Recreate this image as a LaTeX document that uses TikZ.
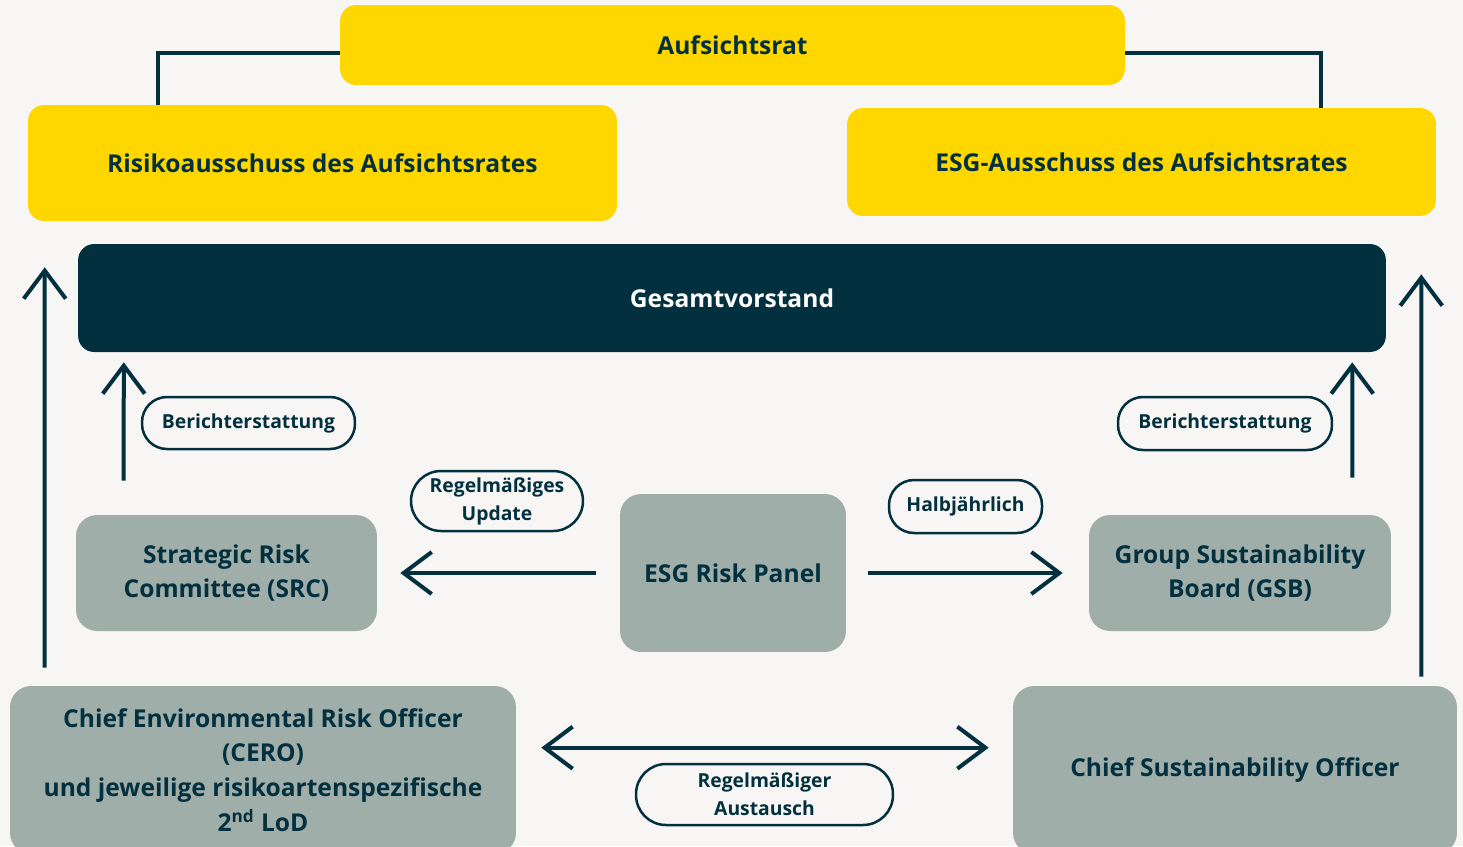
\documentclass[tikz,border=0pt]{standalone}
\usepackage{fontspec}
\setmainfont{Open Sans}
\usetikzlibrary{arrows.meta,calc}
\definecolor{bgcol}{HTML}{F7F6F4}
\definecolor{gelb}{HTML}{FFD700}
\definecolor{navy}{HTML}{02303E}
\definecolor{grau}{HTML}{A0AEAA}
\tikzset{
  box/.style={rounded corners=0.32cm, align=center, text=navy, font=\fontsize{14}{19.8}\selectfont\bfseries, inner sep=0pt},
  gelbbox/.style={box, fill=gelb},
  graubox/.style={box, fill=grau, rounded corners=0.42cm},
  pill/.style={draw=navy, line width=0.05cm, fill=bgcol, rounded corners=0.5cm, align=center, text=navy, font=\fontsize{11}{15.9}\selectfont\bfseries, inner sep=0pt},
  arr/.style={draw=navy, line width=0.08cm, -{Straight Barb[length=0.56cm, width=0.84cm]}},
  conn/.style={draw=navy, line width=0.08cm}
}
\begin{document}
\begin{tikzpicture}[x=0.02cm, y=-0.02cm]
\clip (0,0) rectangle (1463,846);
\fill[bgcol] (0,0) rectangle (1463,846);
\node[gelbbox, minimum width=15.7cm, minimum height=1.6cm] (auf) at (732.5,45) {Aufsichtsrat};
\node[gelbbox, minimum width=11.78cm, minimum height=2.32cm] (risiko) at (322.5,163) {Risikoausschuss des Aufsichtsrates};
\node[gelbbox, minimum width=11.78cm, minimum height=2.16cm] (esg) at (1141.5,162) {ESG-Ausschuss des Aufsichtsrates};
\node[box, fill=navy, text=white, minimum width=26.16cm, minimum height=2.16cm] (gesamt) at (732,298) {Gesamtvorstand};
\node[graubox, minimum width=6.02cm, minimum height=2.32cm] (src) at (226.5,573) {Strategic Risk\\Committee (SRC)};
\node[graubox, minimum width=4.52cm, minimum height=3.16cm] (panel) at (733,573) {ESG Risk Panel};
\node[graubox, minimum width=6.04cm, minimum height=2.32cm] (gsb) at (1240,573) {Group Sustainability\\Board (GSB)};
\node[graubox, minimum width=10.12cm, minimum height=3.36cm] (cero) at (263,770) {Chief Environmental Risk Officer\\(CERO)\\und jeweilige risikoartenspezifische\\2\textsuperscript{nd} LoD};
\node[graubox, minimum width=8.88cm, minimum height=3.36cm] (cso) at (1235,770) {Chief Sustainability Officer};

\draw[conn] ($(auf.west)+(0,8)$) -| ($(risiko.north west)+(130,0)$);
\draw[conn] ($(auf.east)+(0,8)$) -| ($(esg.north east)+(-115,0)$);

\draw[arr] ($(cero.north west)+(35,-18)$) -- ($(risiko.south west)+(17,46)$);
\draw[arr] ($(cso.north east)+(-36,-9)$) -- ($(esg.south east)+(-15,58)$);
\draw[arr] ($(src.north west)+(48,-34)$) -- ($(gesamt.south west)+(46,10)$);
\draw[arr] ($(gsb.north east)+(-39,-37)$) -- ($(gesamt.south east)+(-34,10)$);
\draw[arr, shorten <=0.48cm, shorten >=0.46cm] (panel) -- (src);
\draw[arr, shorten <=0.44cm, shorten >=0.52cm] (panel) -- (gsb);
\draw[arr, {Straight Barb[length=0.56cm, width=0.84cm]}-{Straight Barb[length=0.56cm, width=0.84cm]}] ($(cero.north east)+(25,62)$) -- ($(cso.north west)+(-24,62)$);

\node[pill, minimum width=4.26cm, minimum height=1.04cm] (berL) at (248.5,423) {Berichterstattung};
\node[pill, minimum width=4.28cm, minimum height=1.06cm] (berR) at (1225,423.5) {Berichterstattung};
\node[pill, minimum width=3.44cm, minimum height=1.2cm, rounded corners=0.6cm] (upd) at (497,501) {Regelmäßiges\\Update};
\node[pill, minimum width=3.06cm, minimum height=1.06cm] (halb) at (965.5,506.5) {Halbjährlich};
\node[pill, minimum width=5.14cm, minimum height=1.22cm, rounded corners=0.6cm] (aus) at (764.5,794.5) {Regelmäßiger\\Austausch};
\end{tikzpicture}
\end{document}
